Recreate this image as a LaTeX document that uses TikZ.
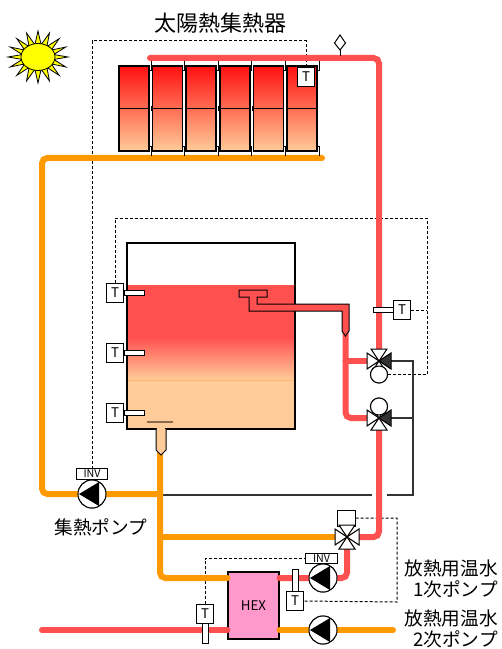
\documentclass[tikz,border=0pt]{standalone}
\usepackage{fontspec}
\setmainfont{Noto Sans CJK JP}
\definecolor{hotpipe}{HTML}{FF5050}
\definecolor{coldpipe}{HTML}{FF9900}
\definecolor{peach}{HTML}{FFCC99}
\definecolor{panelred}{HTML}{FF1010}
\definecolor{hexpink}{HTML}{FF99CC}
\definecolor{sunyellow}{HTML}{FFFF00}
\definecolor{darkbar}{HTML}{8B6A50}

\tikzset{
  hot/.style={line width=4.5pt, hotpipe, line cap=round, rounded corners=4pt},
  cold/.style={line width=4.5pt, coldpipe, line cap=round, rounded corners=4pt},
  sig/.style={line width=0.75pt, dash pattern=on 2.25pt off 1.5pt},
  wire/.style={line width=1pt, black!80},
  panel/.style={draw, line width=1.1pt, top color=panelred, bottom color=peach,
    minimum width=22.5pt, minimum height=63.75pt, inner sep=0pt},
  tbox/.style={draw, fill=white, line width=0.75pt, minimum width=12.75pt,
    minimum height=14pt, inner sep=0pt, font=\fontsize{10}{10}\selectfont},
  stem/.style={draw, fill=white, line width=0.75pt},
  invbox/.style={draw, fill=white, line width=0.6pt, minimum width=23.5pt,
    minimum height=8pt, inner sep=0pt, font=\fontsize{8}{8}\selectfont},
  pump/.style={circle, draw, fill=white, line width=0.75pt, minimum size=21pt, inner sep=0pt,
    path picture={\fill[black] ([xshift=-9.75pt]path picture bounding box.center)
      -- ([xshift=5.25pt,yshift=9pt]path picture bounding box.center)
      -- ([xshift=5.25pt,yshift=-9pt]path picture bounding box.center) -- cycle;}},
  actuator/.style={circle, draw, fill=white, line width=0.75pt, minimum size=12.75pt, inner sep=0pt},
  jptext/.style={font=\fontsize{14}{16}\selectfont, align=right, inner sep=0pt},
  pics/wedge/.style={code={\draw[fill=#1, line width=0.75pt] (0,0) -- (-12,-8) -- (-12,8) -- cycle;}},
}

\begin{document}
\begin{tikzpicture}[x=0.75pt, y=-0.75pt]
  \useasboundingbox (0,0) rectangle (502,649);

  \coordinate (v1) at (379,361);
  \coordinate (v2) at (379,418);
  \coordinate (v3) at (347,537);

  \node[font=\fontsize{16.5}{18}\selectfont] (title) at (220,23) {太陽熱集熱器};

  % sun
  \draw[fill=sunyellow, line width=0.6pt] (68,57) \foreach \k in {1,...,31}{
      -- ({38+ifthenelse(mod(\k,2),16,30)*cos(\k*11.25)},{57+ifthenelse(mod(\k,2),12.5,26)*sin(\k*11.25)}) } -- cycle;
  \draw[fill=sunyellow, line width=0.6pt] (38,57) ellipse [x radius=17, y radius=13.5];

  % control lines
  \node[tbox] (tc) at (306,77) {T};
  \node[invbox] (inv1) at (92,474) {INV};
  \draw[sig] (tc.north) -- (306,41) -- (92,41) -- (inv1.north);
  \node[tbox] (ts1) at (115,293) {T};
  \node[tbox] (ts2) at (115,353) {T};
  \node[tbox] (ts3) at (115,413) {T};
  \node[tbox] (tp) at (402,310) {T};
  \node[actuator] (act1) at (379,374.5) {};
  \node[actuator] (act2) at (379,406.5) {};
  \draw[sig] (ts1.north) -- (115,218) -- (427,218) -- (427,374.5) -- (act1.east);
  \draw[sig] (tp.east) -- (427,310);
  \node[draw, fill=white, line width=0.75pt, minimum width=13.5pt, minimum height=12pt] (act3) at (346,518) {};
  \node[tbox] (tpo) at (295,601) {T};
  \node[tbox] (thx) at (205,614) {T};
  \node[invbox] (inv2) at (321.5,558.5) {INV};
  \draw[sig] (act3.east) -- (397,518) -- (397,602) -- (tpo.east);
  \draw[sig] (thx.north) -- (205,558.5) -- (inv2.west);

  % bypass line
  \draw[wire] (v1) -- (413,361) -- (413,495) -- (387,495);
  \draw[wire] (372,495) -- (163,495);
  \draw[wire] (v2) -- (413,418);

  \node[pump] (cpump) at (92,494) {};
  \node[pump] (ppri) at (323,578) {};
  \node[pump] (psec) at (323,630) {};
  \node[draw, fill=hexpink, line width=0.9pt, minimum width=38.25pt, minimum height=50.25pt,
    font=\fontsize{10}{10}\selectfont] (hex) at (253.5,605.5) {HEX};

  % pipes
  \draw[hot] (150,58) -- (379,58) -- (v1);
  \draw[hot] (345.5,333) -- (345.5,418) -- (v2);
  \draw[hot] (345.5,361) -- (v1);
  \draw[hot] (v2) -- (379,537) -- (v3);
  \draw[hot] (v3) -- (v3 |- ppri) -- (hex.east |- ppri);
  \draw[hot] (42,630) -- (hex.west |- psec);
  \draw[cold] (322,158) -- (42,158) -- (42,494) -- (160,494);
  \draw[cold] (160,450) -- (160,578) -- (hex.west |- ppri);
  \draw[cold] (160,537) -- (v3);
  \draw[cold] (hex.east |- psec) -- (393,630);

  % air vent
  \draw[line width=0.75pt, fill=white] (340,35) -- (345.5,43) -- (340,50) -- (334.5,43) -- cycle;
  \draw[line width=0.75pt] (340,50) -- (340,56);

  % collectors
  \foreach \i in {0,...,5}{
    \pgfmathsetmacro\xl{119+33.6*\i}
    \draw[line width=0.75pt] (\xl+30,71) -- (\xl+32,71) -- (\xl+32,61);
    \draw[line width=0.75pt] (\xl+30,147) -- (\xl+32,147) -- (\xl+32,156);
    \node[panel] (c\i) at (\xl+15,108.5) {};
    \draw[line width=0.9pt] (c\i.west) -- (c\i.east);
    \fill (\xl-1.5,106) rectangle (\xl+0.5,111);
  }
  \node[tbox] at (tc) {T};

  % tank
  \fill[hotpipe] (127,285) rectangle (295,337);
  \shade[top color=hotpipe, bottom color=peach] (127,337) rectangle (295,380);
  \fill[peach] (127,380) rectangle (295,429);
  \draw[peach!70!orange, line width=0.5pt] (127,380) -- (295,380);
  \node[draw, line width=1.1pt, minimum width=126pt, minimum height=139.5pt, inner sep=0pt] (tank) at (211,336) {};
  \draw[darkbar, line width=1.2pt] (147,422) -- (173,422);
  \draw[fill=peach, line width=0.75pt] (156,429) -- (156,450) -- (161,455) -- (166,450) -- (166,429);
  \fill[peach] (156.6,427) rectangle (165.4,431);
  \draw[fill=hotpipe, line width=0.75pt] (239,290) -- (267,290) -- (267,297) -- (257,297) -- (257,304)
    -- (349,304) -- (349,331) -- (345.5,336) -- (342,331) -- (342,311) -- (249,311) -- (249,297)
    -- (239,297) -- cycle;

  % sensors
  \foreach \s in {ts1,ts2,ts3}{
    \draw[stem] (\s.east) ++(0,-2.5) rectangle ++(20,5);
    \node[tbox] at (\s) {T};
  }
  \draw[stem] (tp.west) ++(0,-2.5) rectangle ++(-20,5);
  \node[tbox] at (tp) {T};
  \draw[stem] (tpo.north) ++(-3,0) rectangle ++(6,-22);
  \node[tbox] at (tpo) {T};
  \draw[stem] (thx.south) ++(-3,0) rectangle ++(6,20);
  \node[tbox] at (thx) {T};

  % valves
  \pic at (v1) {wedge=white};
  \pic[rotate=180] at (v1) {wedge=black!80};
  \pic[rotate=-90] at (v1) {wedge=white};
  \pic[rotate=90] at (v1) {wedge=white};
  \node[actuator] at (act1) {};
  \pic at (v2) {wedge=white};
  \pic[rotate=180] at (v2) {wedge=black!80};
  \pic[rotate=90] at (v2) {wedge=white};
  \pic[rotate=-90] at (v2) {wedge=white};
  \node[actuator] at (act2) {};
  \draw[line width=0.75pt] (act3.south) -- (v3);
  \foreach \r in {0,90,180,270}
    \pic[rotate=\r] at (v3) {wedge=white};

  \node[pump] at (cpump) {};
  \node[pump] at (ppri) {};
  \node[pump] at (psec) {};
  \node[invbox] at (inv1) {INV};
  \node[invbox] at (inv2) {INV};

  \node[jptext] (lcp) at (101,527) {集熱ポンプ};
  \node[jptext, anchor=east] (lpri) at (498,579) {放熱用温水\\1次ポンプ};
  \node[jptext, anchor=east] (lsec) at (498,629) {放熱用温水\\2次ポンプ};
\end{tikzpicture}
\end{document}
